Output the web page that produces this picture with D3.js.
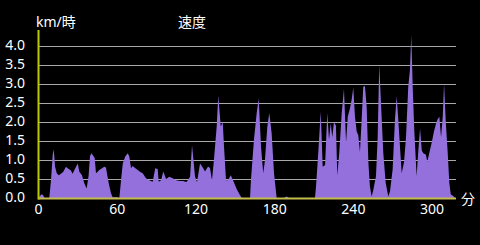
<!DOCTYPE html>
<html lang="ja">
<head>
<meta charset="UTF-8" />
<title>速度</title>
<script src="https://d3js.org/d3.v7.min.js"></script>
<style>
  html, body { margin: 0; padding: 0; background: #000; }
  svg { display: block; }
  text { font-family: "Noto Sans", "Noto Sans CJK JP", sans-serif; fill: #fff; }
</style>
</head>
<body>
<svg id="chart"></svg>
<script>
// minutes elapsed
const minutes = [
  0, 1.5, 2.7, 3.8, 5.0, 8.6, 9.9, 11.2, 12.0, 13.0, 14.3, 15.8, 17.5, 19.3, 21.3, 23.1,
  24.9, 26.4, 28.4, 30.3, 31.5, 33.5, 35.3, 37.1, 38.6, 39.6, 40.6, 42.1, 43.2, 44.2,
  45.5, 46.7, 48.8, 50.5, 51.8, 53.9, 55.6, 56.9, 60.2, 62.0, 63.3, 64.6, 66.5, 68.4,
  69.6, 70.9, 72.2, 74.2, 76.0, 77.7, 79.8, 82.3, 84.8, 87.4, 89.4, 91.2, 92.0, 93.8,
  95.5, 97.6, 100.1, 102.7, 105.2, 108.2, 110.5, 113.2, 115.9, 117.4, 119.7, 121.2,
  123.5, 125.8, 127.3, 129.6, 131.1, 132.6, 134.1, 136.2, 137.4, 139.3, 140.8, 141.8,
  143.3, 144.8, 146.9, 148.9, 151.4, 154.0, 155.3, 161.6, 162.3, 164.6, 166.7, 168.2,
  170.0, 171.7, 173.0, 174.8, 176.3, 178.1, 179.9, 181.9, 187.5, 189.6, 191.3, 211.1,
  211.9, 213.6, 215.5, 217.0, 218.8, 220.5, 221.8, 223.1, 224.3, 225.6, 227.1, 228.1,
  229.6, 231.5, 233.2, 234.8, 236.1, 237.8, 239.1, 240.3, 241.6, 242.9, 244.1, 245.4,
  246.7, 247.9, 249.2, 250.5, 251.8, 253.0, 254.3, 255.6, 257.6, 258.9, 260.1, 261.4,
  263.2, 265.0, 267.0, 268.3, 270.3, 272.1, 273.4, 274.6, 275.9, 277.2, 279.0, 280.5,
  282.2, 283.5, 284.5, 285.6, 286.8, 288.6, 289.9, 291.2, 292.5, 293.7, 295.7, 296.7,
  298.2, 300.1, 301.8, 303.4, 304.6, 305.9, 307.2, 308.5, 309.5, 310.7, 312.3, 313.5,
  314.6, 316.5, 317.8
];
// speed, km/時
const speed = [
  0, 0.05, 0.1, 0.08, 0, 0, 0.47, 1.13, 1.28, 0.82, 0.65, 0.6, 0.64, 0.69, 0.82, 0.77,
  0.73, 0.64, 0.78, 0.91, 0.69, 0.6, 0.39, 0.25, 0.6, 1.09, 1.18, 1.11, 1.05, 0.65,
  0.69, 0.74, 0.78, 0.82, 0.8, 0.39, 0.13, 0.02, 0.02, 0, 0.47, 0.91, 1.09, 1.18,
  1.09, 0.78, 0.84, 0.78, 0.74, 0.69, 0.65, 0.52, 0.47, 0.43, 0.78, 0.76, 0.43, 0.47,
  0.7, 0.5, 0.56, 0.52, 0.47, 0.45, 0.45, 0.42, 0.56, 1.39, 0.56, 0.42,
  0.91, 0.79, 0.7, 0.83, 0.79, 0.47, 1.0, 1.88, 2.7, 1.88, 2.0, 1.34,
  0.47, 0.47, 0.6, 0.45, 0.24, 0.07, 0, 0, 0.47, 1.53, 2.24, 2.62,
  1.34, 0.65, 1.0, 1.88, 2.24, 1.7, 0.65, 0, 0, 0.04, 0, 0,
  0.3, 1.18, 2.27, 0.82, 0.87, 2.24, 1.53, 1.96, 1.6, 2.0, 1.9, 0.6,
  1.18, 2.24, 2.87, 1.46, 2.14, 2.36, 2.6, 2.9, 2.14, 1.75, 1.66, 1.21,
  2.07, 2.93, 2.95, 2.4, 0.95, 0.3, 0.04, 0.22, 0.57, 1.6, 3.52, 2.5,
  1.18, 0.4, 0.04, 0.18, 0.75, 2.07, 2.68, 2.07, 1.35, 0.65, 0.95, 1.6,
  2.93, 3.37, 4.29, 2.93, 1.78, 0.57, 1.25, 1.83, 1.25, 1.18, 1.14, 0.95,
  1.18, 1.46, 1.75, 1.96, 2.07, 2.14, 1.6, 2.14, 3.02, 2.07, 1.18, 0.4,
  0.1, 0.05, 0
];
const yTicks = [0, 0.5, 1, 1.5, 2, 2.5, 3, 3.5, 4];
const xTicks = [0, 60, 120, 180, 240, 300];

const W = 480, H = 245;
const plotLeft = 38, plotRight = 456, plotTop = 30, plotBottom = 198;

const svg = d3.select("#chart").attr("width", W).attr("height", H);
svg.append("rect").attr("width", W).attr("height", H).attr("fill", "#000");

const x = d3.scaleLinear().domain([0, 318.6]).range([plotLeft, plotRight]);
const y = d3.scaleLinear().domain([0, 4]).range([plotBottom, 46]);

// grid
svg.append("g")
  .selectAll("line")
  .data(yTicks.slice(1))
  .join("line")
  .attr("x1", plotLeft).attr("x2", plotRight)
  .attr("y1", d => y(d) + 0.5).attr("y2", d => y(d) + 0.5)
  .attr("stroke", "#a8a8a8").attr("stroke-width", 1);

const data = minutes.map((m, i) => ({ m, v: speed[i] }));

svg.append("path")
  .datum(data)
  .attr("fill", "#9370db")
  .attr("d", d3.area().x(d => x(d.m)).y0(y(0)).y1(d => y(d.v)));

// y axis
const yAxis = svg.append("g")
  .attr("transform", `translate(${plotLeft},-1)`)
  .call(d3.axisLeft(y).tickValues(yTicks).tickSize(0).tickPadding(13).tickFormat(d3.format(".1f")));
yAxis.select(".domain").remove();
yAxis.selectAll("text").attr("font-size", 14).attr("fill", "#fff")
  .style("font-family", "'Noto Sans', sans-serif");

// x axis
const xAxis = svg.append("g")
  .attr("transform", `translate(0,${plotBottom})`)
  .call(d3.axisBottom(x).tickValues(xTicks).tickSize(0).tickPadding(6));
xAxis.select(".domain").remove();
xAxis.selectAll("text").attr("font-size", 14).attr("fill", "#fff")
  .style("font-family", "'Noto Sans', sans-serif");

svg.append("line")
  .attr("x1", plotLeft).attr("x2", plotRight)
  .attr("y1", plotBottom + 0.5).attr("y2", plotBottom + 0.5)
  .attr("stroke", "#c4bc4c").attr("stroke-width", 2);
svg.append("line")
  .attr("x1", plotLeft + 0.5).attr("x2", plotLeft + 0.5)
  .attr("y1", plotTop).attr("y2", plotBottom + 1.5)
  .attr("stroke", "#bcc800").attr("stroke-width", 2);

svg.append("text").attr("x", 36).attr("y", 27).attr("font-size", 14).text("km/時");
svg.append("text").attr("x", 178).attr("y", 27).attr("font-size", 14).text("速度");
svg.append("text").attr("x", 461).attr("y", 204).attr("font-size", 14).text("分");
</script>
</body>
</html>
